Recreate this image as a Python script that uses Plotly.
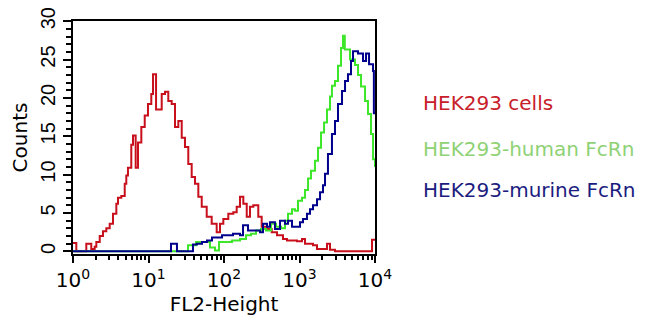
import math
import plotly.graph_objects as go

# FL2-Height channel positions, in decades (log10 of FL2-Height)
red_dec = [0.000, 0.044, 0.176, 0.242, 0.287, 0.309, 0.354, 0.397, 0.441, 0.486,
           0.530, 0.574, 0.596, 0.640, 0.685, 0.706, 0.728, 0.772, 0.795, 0.830,
           0.861, 0.905, 0.950, 0.993, 1.037, 1.060, 1.100, 1.175, 1.219, 1.262,
           1.307, 1.351, 1.395, 1.440, 1.483, 1.527, 1.572, 1.616, 1.660, 1.705,
           1.771, 1.837, 1.903, 1.947, 1.991, 2.057, 2.123, 2.168, 2.212, 2.256,
           2.301, 2.344, 2.388, 2.454, 2.499, 2.566, 2.632, 2.702, 2.781, 2.834,
           2.967, 3.033, 3.073, 3.179, 3.232, 3.364, 3.404, 3.470, 3.960, 4.000]
red_counts = [1.1, 0, 1.0, 0.3, 0.6, 1.2, 2.0, 2.6, 3.0, 3.6,
              4.9, 6.2, 7.0, 7.2, 8.8, 9.9, 10.9, 13.9, 15.1, 10.9,
              14.2, 16.2, 17.7, 19.2, 20.5, 23.1, 18.5, 20.5, 20.8, 19.6,
              19.2, 16.2, 17.0, 14.8, 13.6, 11.4, 9.7, 8.8, 7.1, 5.8,
              4.5, 3.6, 2.5, 3.6, 4.2, 4.9, 5.1, 5.8, 7.1, 6.2,
              4.5, 5.8, 6.0, 4.5, 3.2, 2.9, 2.5, 2.1, 1.6, 1.4,
              1.3, 1.6, 1.0, 0.8, 0.3, 1.0, 0.2, 0, 1.5, 1.5]

green_dec = [0.000, 1.523, 1.629, 1.815, 1.881, 1.934, 2.106, 2.212, 2.291, 2.358,
             2.424, 2.490, 2.556, 2.623, 2.689, 2.755, 2.808, 2.848, 2.901, 2.940,
             2.980, 3.033, 3.073, 3.113, 3.152, 3.205, 3.245, 3.285, 3.325, 3.364,
             3.404, 3.430, 3.470, 3.510, 3.550, 3.576, 3.600, 3.669, 3.735, 3.775,
             3.815, 3.868, 3.907, 3.947, 3.974, 4.000]
green_counts = [0, 0.8, 1.2, 0.5, 0.1, 1.2, 1.4, 1.6, 2.1, 2.3,
                2.7, 2.9, 2.7, 3.6, 3.2, 3.0, 4.0, 4.9, 5.5, 5.3,
                6.6, 7.0, 8.0, 9.5, 10.5, 11.8, 13.5, 15.5, 16.8, 18.5,
                20.2, 21.6, 22.2, 24.2, 26.5, 28.1, 26.3, 25.0, 24.3, 23.0,
                21.5, 19.6, 17.9, 15.3, 12.0, 11.0]

blue_dec = [0.000, 1.298, 1.377, 1.589, 1.642, 1.709, 1.775, 1.841, 1.974, 2.119,
            2.212, 2.252, 2.318, 2.477, 2.517, 2.570, 2.609, 2.675, 2.742, 2.808,
            2.848, 2.901, 3.007, 3.046, 3.099, 3.139, 3.179, 3.232, 3.272, 3.311,
            3.338, 3.377, 3.430, 3.470, 3.510, 3.563, 3.603, 3.642, 3.682, 3.709,
            3.775, 3.841, 3.881, 3.921, 3.974, 3.985, 4.000]
blue_counts = [0, 1.0, 0, 0.9, 1.0, 1.2, 1.4, 1.8, 2.1, 2.3,
               2.1, 3.4, 2.7, 2.5, 3.6, 3.2, 3.8, 2.9, 4.0, 3.6,
               4.0, 3.2, 3.8, 4.2, 4.9, 5.5, 6.0, 6.8, 7.7, 8.6,
               10.1, 12.7, 15.3, 17.0, 19.2, 20.9, 22.2, 23.1, 24.8, 26.1,
               25.8, 24.8, 25.8, 24.4, 23.5, 18.0, 18.0]

series_names = ["HEK293 cells", "HEK293-human FcRn", "HEK293-murine FcRn"]
line_colors = ["#c8101c", "#3ee62a", "#00008c"]
label_colors = ["#c8202a", "#8fd275", "#1c1c80"]

x_tick_vals = [0, 1, 2, 3, 4]
x_tick_text = ["10<sup>0</sup>", "10<sup>1</sup>", "10<sup>2</sup>", "10<sup>3</sup>", "10<sup>4</sup>"]
y_tick_vals = [0, 5, 10, 15, 20, 25, 30]
y_tick_text = ["0", "5", "10", "15", "20", "25", "30"]

FONT = "DejaVu Sans"
NARROW = "Liberation Sans"

fig = go.Figure()
for xs, ys, name, col in zip([red_dec, green_dec, blue_dec],
                             [red_counts, green_counts, blue_counts],
                             series_names, line_colors):
    fig.add_trace(go.Scatter(x=xs, y=ys, mode="lines", name=name,
                             line=dict(color=col, width=2, shape="hv"),
                             showlegend=False))

minor_x = [d + math.log10(k) for d in range(4) for k in range(2, 10)]

fig.update_xaxes(range=[0, 4], tickmode="array", tickvals=x_tick_vals, ticktext=x_tick_text,
                 ticks="outside", ticklen=7, tickwidth=2, tickcolor="black",
                 showline=True, linecolor="black", linewidth=2, mirror=True,
                 showgrid=False, zeroline=False, ticklabeloverflow="allow", automargin=False,
                 tickfont=dict(family=FONT, size=20, color="black"),
                 title=dict(text="FL2-Height", font=dict(family=FONT, size=20, color="black"), standoff=4),
                 minor=dict(tickmode="array", tickvals=minor_x, ticks="outside", ticklen=4,
                            tickwidth=2, tickcolor="black", showgrid=False))
fig.update_yaxes(range=[-0.35, 30.03], tickmode="array", tickvals=y_tick_vals, ticktext=y_tick_text,
                 ticks="outside", ticklen=8, tickwidth=2, tickcolor="black", tickangle=-90,
                 showline=True, linecolor="black", linewidth=2, mirror=True,
                 showgrid=False, zeroline=False, ticklabeloverflow="allow", automargin=False,
                 tickfont=dict(family=NARROW, size=20, color="black"),
                 title=dict(text="Counts", font=dict(family=FONT, size=20, color="black"), standoff=4),
                 minor=dict(dtick=1, ticks="outside", ticklen=5, tickwidth=2, tickcolor="black",
                            showgrid=False))

label_y = [0.646, 0.452, 0.273]
for name, col, yy in zip(series_names, label_colors, label_y):
    fig.add_annotation(text=name, xref="paper", yref="paper", x=1.151, y=yy,
                       xanchor="left", yanchor="middle", showarrow=False,
                       font=dict(family=FONT, size=20, color=col))

# page body has an 8px margin: shrink the figure so the plot lands at the same pixels
fig.update_layout(width=637, height=315, margin=dict(l=65, r=270, t=13, b=69),
                  paper_bgcolor="white", plot_bgcolor="white")

fig.write_html("out.html")
